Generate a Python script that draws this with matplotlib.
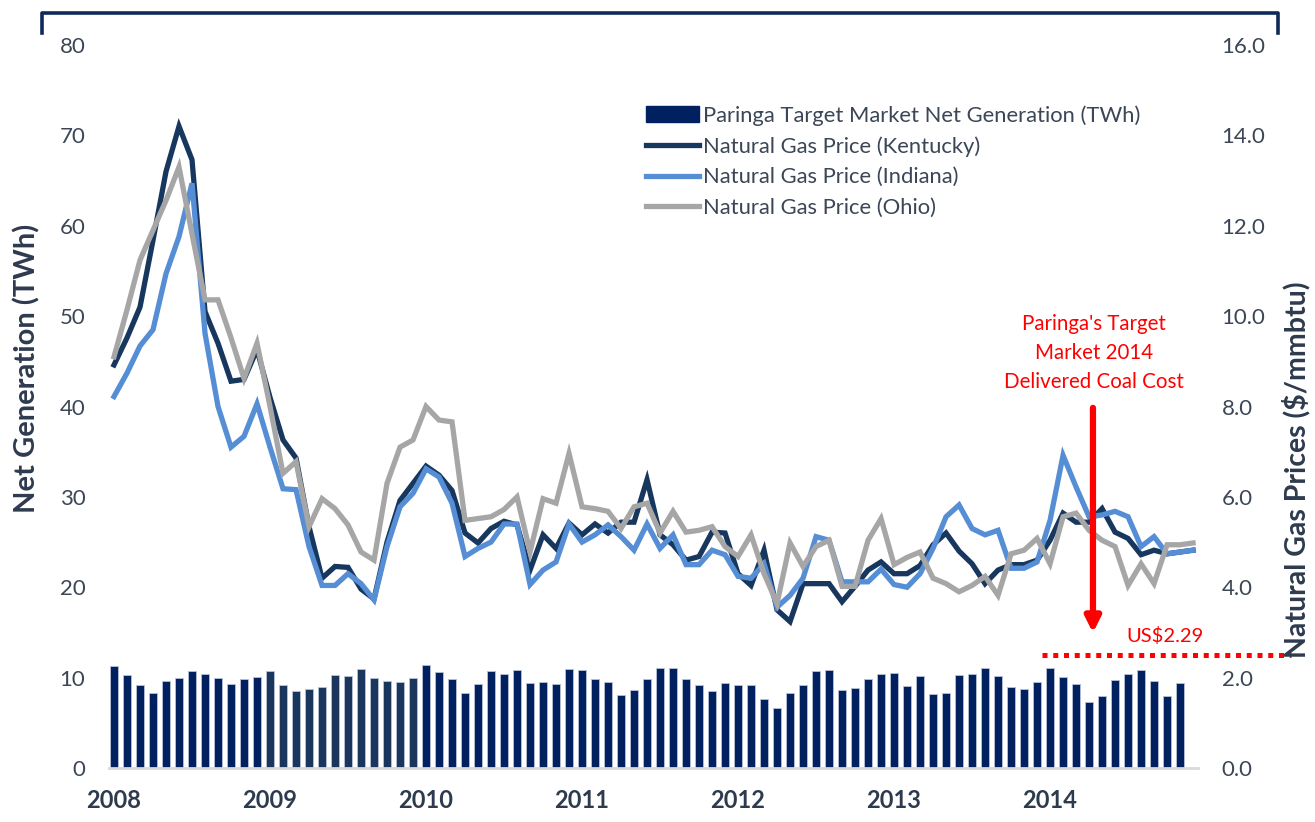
import matplotlib
matplotlib.use("Agg")
import matplotlib.pyplot as plt
from matplotlib.lines import Line2D
from matplotlib.patches import Patch
import numpy as np

plt.rcParams['font.family'] = ['Lato', 'DejaVu Sans']

years = ["2008", "2009", "2010", "2011", "2012", "2013", "2014"]

# Monthly net generation (TWh), Jan 2008 - Nov 2014
generation = [
    11.3, 10.3, 9.2, 8.3, 9.6, 10.0, 10.7, 10.4, 10.0, 9.3, 9.85, 10.1,
    10.7, 9.15, 8.5, 8.7, 9.0, 10.3, 10.15, 11.0, 10.0, 9.6, 9.55, 10.0,
    11.4, 10.6, 9.8, 8.3, 9.3, 10.7, 10.4, 10.8, 9.4, 9.5, 9.3, 10.9,
    10.85, 9.85, 9.55, 8.1, 8.6, 9.8, 11.1, 11.1, 9.9, 9.2, 8.5, 9.4,
    9.15, 9.15, 7.6, 6.6, 8.3, 9.15, 10.7, 10.8, 8.6, 8.85, 9.9, 10.4,
    10.5, 9.1, 10.2, 8.2, 8.3, 10.3, 10.4, 11.1, 10.2, 8.95, 8.7, 9.5,
    11.1, 10.1, 9.3, 7.25, 7.95, 9.75, 10.4, 10.85, 9.65, 7.95, 9.4,
]

# Natural gas prices ($/mmbtu), Jan 2008 - Dec 2014
kentucky = [
    8.92, 9.52, 10.20, 11.68, 13.20, 14.20, 13.46, 10.10, 9.40, 8.56, 8.60, 9.26,
    8.20, 7.26, 6.86, 5.34, 4.20, 4.46, 4.44, 3.96, 3.74, 5.00, 5.92, 6.30,
    6.68, 6.48, 6.14, 5.20, 4.98, 5.30, 5.46, 5.38, 4.38, 5.16, 4.86, 5.42,
    5.16, 5.40, 5.20, 5.44, 5.44, 6.38, 5.16, 4.94, 4.60, 4.68, 5.22, 5.20,
    4.30, 4.04, 4.82, 3.50, 3.24, 4.08, 4.08, 4.08, 3.68, 4.02, 4.38, 4.56,
    4.30, 4.30, 4.48, 4.94, 5.20, 4.80, 4.52, 4.08, 4.38, 4.50, 4.50, 4.60,
    5.04, 5.64, 5.44, 5.44, 5.74, 5.22, 5.08, 4.72, 4.82, 4.74, 4.78, 4.82,
]
indiana = [
    8.22, 8.74, 9.34, 9.70, 10.94, 11.76, 12.94, 9.62, 8.00, 7.10, 7.34, 8.06,
    7.10, 6.18, 6.16, 4.90, 4.04, 4.04, 4.30, 4.08, 3.72, 4.90, 5.78, 6.08,
    6.62, 6.44, 5.86, 4.68, 4.86, 5.00, 5.40, 5.40, 4.06, 4.38, 4.56, 5.40,
    5.00, 5.16, 5.38, 5.12, 4.82, 5.40, 4.86, 5.16, 4.50, 4.50, 4.82, 4.72,
    4.24, 4.20, 4.52, 3.56, 3.82, 4.20, 5.12, 5.04, 4.12, 4.12, 4.12, 4.40,
    4.06, 4.00, 4.30, 4.86, 5.56, 5.82, 5.30, 5.16, 5.26, 4.42, 4.42, 4.56,
    5.48, 6.92, 6.22, 5.56, 5.60, 5.68, 5.56, 4.90, 5.12, 4.74, 4.78, 4.82,
]
ohio = [
    9.10, 10.14, 11.24, 11.90, 12.56, 13.30, 11.82, 10.36, 10.36, 9.52, 8.62, 9.40,
    8.00, 6.52, 6.78, 5.34, 5.96, 5.74, 5.38, 4.78, 4.60, 6.30, 7.10, 7.26,
    8.00, 7.70, 7.66, 5.48, 5.52, 5.56, 5.72, 6.00, 4.78, 5.96, 5.86, 6.96,
    5.78, 5.74, 5.68, 5.30, 5.78, 5.86, 5.20, 5.68, 5.22, 5.26, 5.34, 4.90,
    4.68, 5.16, 4.30, 3.64, 4.98, 4.46, 4.90, 5.04, 4.02, 4.02, 5.04, 5.52,
    4.50, 4.66, 4.78, 4.20, 4.08, 3.90, 4.04, 4.24, 3.82, 4.74, 4.82, 5.08,
    4.52, 5.56, 5.64, 5.26, 5.04, 4.90, 4.04, 4.52, 4.08, 4.94, 4.94, 4.98,
]
coal_cost_line = 2.5
coal_cost_label = "US$2.29"

left_ticks = [0, 10, 20, 30, 40, 50, 60, 70, 80]
right_ticks = [0.0, 2.0, 4.0, 6.0, 8.0, 10.0, 12.0, 14.0, 16.0]

NAVY = "#002060"
NAVY09 = "#1B365D"
KY = "#17375E"
IN = "#558ED5"
OH = "#A6A6A6"
TXT = "#3B4656"
BOLDTXT = "#2E3B4E"
RED = "#FF0000"

fig = plt.figure(figsize=(13.15, 8.22), dpi=100)
W, H = 1315, 822
ax = fig.add_axes([109 / W, (H - 768) / H, (1198 - 109) / W, (768 - 45) / H])

x_gen = np.arange(len(generation))
bar_colors = [NAVY09 if 12 <= i < 24 else NAVY for i in x_gen]
ax.bar(x_gen, generation, width=0.64, color=bar_colors,
       edgecolor="#B8C2D6", linewidth=0.6, zorder=2)

ax.set_xlim(-0.385, 83.38)
ax.set_ylim(0, 80)
ax.set_yticks(left_ticks)
ax.set_yticklabels([str(t) for t in left_ticks])
ax.set_xticks([12 * i for i in range(len(years))])
ax.set_xticklabels(years, fontweight="bold", fontsize=17, color=BOLDTXT)
ax.tick_params(axis="x", length=0, pad=15)
ax.tick_params(axis="y", length=0, pad=17, labelsize=16, labelcolor=TXT)
for s in ["top", "left", "right"]:
    ax.spines[s].set_visible(False)
ax.spines["bottom"].set_color("#D9D9D9")
ax.spines["bottom"].set_linewidth(2)

ax2 = ax.twinx()
x_line = np.arange(len(kentucky))
lw = 3.8
ax2.plot(x_line, kentucky, color=KY, lw=lw, solid_joinstyle="miter", zorder=3)
ax2.plot(x_line, indiana, color=IN, lw=lw, solid_joinstyle="miter", zorder=4)
ax2.plot(x_line, ohio, color=OH, lw=lw, solid_joinstyle="miter", zorder=5)
ax2.set_ylim(0, 16)
ax2.set_yticks(right_ticks)
ax2.set_yticklabels([f"{t:.1f}" for t in right_ticks])
ax2.tick_params(axis="y", length=0, pad=17, labelsize=16, labelcolor=TXT)
for s in ["top", "left", "right", "bottom"]:
    ax2.spines[s].set_visible(False)

# Axis titles
fig.text(27 / W, 1 - 368 / H, "Net Generation (TWh)", rotation=90,
         ha="center", va="center", fontsize=21, fontweight="bold", color=BOLDTXT)
fig.text(1296 / W, 1 - 470 / H, "Natural Gas Prices ($/mmbtu)", rotation=90,
         ha="center", va="center", fontsize=20.5, fontweight="bold", color=BOLDTXT)

# Coal cost reference line
ax2.plot([71.4, 90.5], [coal_cost_line, coal_cost_line], color=RED, lw=3.6,
         dashes=(1, 1.15), dash_capstyle="butt", clip_on=False, zorder=6)
ax2.text(77.9, 2.92, coal_cost_label, color=RED, fontsize=14.5,
         ha="left", va="center", zorder=7)

# Arrow and annotation
ax2.annotate("", xy=(75.3, 2.99), xytext=(75.3, 7.97),
             arrowprops=dict(arrowstyle="-|>,head_length=0.9,head_width=0.45",
                             color=RED, lw=4.5, shrinkA=0, shrinkB=0),
             zorder=8)
ax2.text(75.4, 9.18, "Paringa's Target\nMarket 2014\nDelivered Coal Cost",
         color=RED, fontsize=14.8, ha="center", va="center",
         linespacing=1.55, zorder=8)

# Legend
handles = [
    Patch(facecolor=NAVY, edgecolor=NAVY),
    Line2D([], [], color=KY, lw=lw),
    Line2D([], [], color=IN, lw=lw),
    Line2D([], [], color=OH, lw=lw),
]
labels = [
    "Paringa Target Market Net Generation (TWh)",
    "Natural Gas Price (Kentucky)",
    "Natural Gas Price (Indiana)",
    "Natural Gas Price (Ohio)",
]
fig.legend(handles, labels, loc="upper left",
           bbox_to_anchor=(646 / W, 1 - 105 / H), frameon=False,
           fontsize=15.8, labelcolor=TXT, handlelength=2.4,
           handletextpad=0.2, labelspacing=0.48, borderaxespad=0,
           borderpad=0)

# Top bracket
bx0, bx1, by, bt = 42 / W, 1278 / W, 1 - 13 / H, 1 - 33 / H
fig.add_artist(Line2D([bx0, bx0, bx1, bx1], [bt, by, by, bt],
                      color="#0F2A5A", lw=2.6, solid_joinstyle="round"))

fig.savefig("out.png", dpi=100)
